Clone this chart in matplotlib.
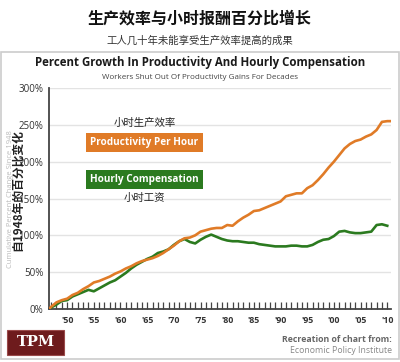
import numpy as np
import matplotlib.pyplot as plt
from matplotlib.patches import Rectangle

plt.rcParams['font.family'] = ['Open Sans', 'Noto Sans CJK SC', 'DejaVu Sans']

years = list(range(1947, 2011))
productivity = [3, 9, 12, 14, 19, 22, 27, 31, 36, 38,
                41, 44, 48, 51, 55, 58, 62, 65, 67, 69,
                72, 76, 81, 86, 92, 96, 97, 100, 105, 107,
                109, 110, 110, 114, 113, 119, 124, 128, 133, 134,
                137, 140, 143, 146, 153, 155, 157, 157, 164, 168,
                175, 183, 192, 200, 209, 218, 224, 228, 230, 234,
                237, 243, 254, 255]
compensation = [2, 6, 11, 12, 17, 20, 23, 26, 24, 28,
                32, 36, 39, 44, 49, 55, 60, 64, 68, 71,
                76, 78, 81, 87, 92, 95, 91, 89, 94, 98,
                101, 98, 95, 93, 92, 92, 91, 90, 90, 88,
                87, 86, 85, 85, 85, 86, 86, 85, 85, 87,
                91, 94, 95, 99, 105, 106, 104, 103, 103, 104,
                105, 114, 115, 113]
label_years = list(range(1950, 2011, 5))
y_ticks = [0, 50, 100, 150, 200, 250, 300]

orange = '#e07b27'
green = '#2b7a1f'

fig = plt.figure(figsize=(4, 3.62), dpi=100)
fig.patch.set_facecolor('white')

# chart frame
fig.patches.append(Rectangle((0.003, 0.008), 0.994, 0.848, transform=fig.transFigure,
                             fill=False, edgecolor='#cccccc', linewidth=1.2))

fig.text(0.5, 0.948, '生产效率与小时报酬百分比增长', ha='center', va='center',
         fontsize=11.5, fontweight='heavy', family=['Noto Sans CJK SC'], color='#111111')
fig.text(0.5, 0.888, '工人几十年未能享受生产效率提高的成果', ha='center', va='center',
         fontsize=7.5, family=['Noto Sans CJK SC'], color='#333333')
fig.text(0.5, 0.826, 'Percent Growth In Productivity And Hourly Compensation', ha='center',
         va='center', fontsize=8.3, fontweight='bold', color='#1a1a1a')
fig.text(0.5, 0.786, 'Workers Shut Out Of Productivity Gains For Decades', ha='center',
         va='center', fontsize=5.8, color='#444444')

ax = fig.add_axes([0.1225, 0.1464, 0.855, 0.6105])
x = list(years)
ax.plot([1946.6] + x, [0] + compensation, color=green, lw=1.9,
        solid_joinstyle='round', zorder=3)
ax.plot([1946.6] + x + [2010.5], [0] + productivity + [productivity[-1]], color=orange,
        lw=1.9, solid_joinstyle='round', zorder=4)

ax.set_xlim(1946.6, 2010.7)
ax.set_ylim(0, 300)
ax.set_yticks(y_ticks)
ax.set_yticklabels([f'{v}%' for v in y_ticks], fontsize=7, color='#333333')
for v in y_ticks[1:]:
    ax.axhline(v, color='#e3e3e3', lw=1, zorder=1)
ax.set_xticks(label_years)
ax.set_xticklabels(["'" + str(y)[2:] for y in label_years], fontsize=6.3, color='#333333',
                   fontweight='bold')
ax.set_xticks(years, minor=True)
ax.tick_params(axis='x', which='both', direction='in', length=5, width=0.9, color='#444444', pad=5)
ax.tick_params(axis='y', length=0, pad=4)
for s in ['top', 'right']:
    ax.spines[s].set_visible(False)
ax.spines['left'].set_color('#444444')
ax.spines['left'].set_linewidth(1.3)
ax.spines['bottom'].set_color('#444444')
ax.spines['bottom'].set_linewidth(1.3)

lx = 1964.5
ax.text(lx, 252, '小时生产效率', ha='center', va='center', fontsize=7.5,
        family=['Noto Sans CJK SC'], color='#222222')
ax.text(lx, 226, 'Productivity Per Hour', ha='center', va='center', fontsize=7.2,
        fontweight='bold', color='white',
        bbox=dict(boxstyle='square,pad=0.4', fc=orange, ec='none'))
ax.text(lx, 176, 'Hourly Compensation', ha='center', va='center', fontsize=7.2,
        fontweight='bold', color='white',
        bbox=dict(boxstyle='square,pad=0.4', fc=green, ec='none'))
ax.text(lx, 151, '小时工资', ha='center', va='center', fontsize=7.5,
        family=['Noto Sans CJK SC'], color='#222222')

fig.text(0.027, 0.45, 'Cumulative Percent Change Since 1948', rotation=90, ha='center',
         va='center', fontsize=5.5, color='#bbbbbb')
fig.text(0.045, 0.475, '自1948年的百分比变化', rotation=90, ha='center', va='center',
         fontsize=8.5, fontweight='bold', family=['Noto Sans CJK SC', 'DejaVu Sans'],
         color='#222222')

# TPM logo
fig.patches.append(Rectangle((0.018, 0.019), 0.142, 0.069, transform=fig.transFigure,
                             facecolor='#6e1b1d', edgecolor='#9a4a4a', linewidth=0.8))
fig.text(0.089, 0.054, 'TPM', ha='center', va='center', fontsize=10.5, fontweight='bold',
         family=['DejaVu Serif'], color='white')

fig.text(0.98, 0.063, 'Recreation of chart from:', ha='right', va='center', fontsize=6.3,
         fontweight='bold', color='#666666')
fig.text(0.98, 0.032, 'Economic Policy Institute', ha='right', va='center', fontsize=6.3,
         color='#888888')

fig.savefig('out.png', dpi=100, facecolor='white')
